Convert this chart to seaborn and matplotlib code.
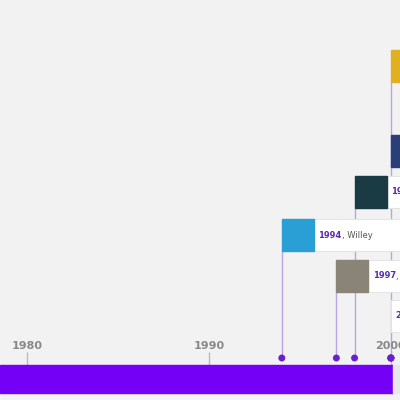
import matplotlib
matplotlib.use("Agg")
import matplotlib.pyplot as plt
import matplotlib.patches as mpatches
import seaborn as sns
import pandas as pd

# timeline events (year, label, thumbnail colour)
years = [1994, 1997, 1998, 2000, 2000, 2000, 2000]
labels = ["1994, Willey", "1997, C", "1998", "2000", "2000", "2000", "2000"]
thumb_colors = ["#2a9fd6", "#8a8478", "#1a3a44", "#e0b020", "#2a3f7a", "#ffffff", "#ffffff"]
card_top = [219, 260, 176, 50, 135, 300, 300]  # vertical slot of each card (px)
tick_years = [1980, 1990, 2000]

purple = "#7400f5"
bg = "#f2f2f2"

sns.set_theme(style="white")
plt.rcParams['font.family'] = ['DejaVu Sans']

fig = plt.figure(figsize=(4, 4), dpi=100, facecolor=bg)
ax = fig.add_axes([0, 0, 1, 1])
ax.set_facecolor(bg)
ax.set_xlim(1978.5, 2000.5)
ax.set_ylim(400, 0)
ax.axis("off")

df = pd.DataFrame({"year": years, "label": labels, "top": card_top, "thumb": thumb_colors})

# stems
for _, r in df.drop_duplicates("year").iterrows():
    ax.vlines(r["year"], min(df[df.year == r["year"]]["top"]) + 32, 358, color="#b9a6e0", lw=1, zorder=1)

# cards
yr_px = 22 / 400
for _, r in df.iterrows():
    if r["top"] == 300 and r["thumb"] == "#ffffff" and r["label"] == "2000" and _ == 6:
        continue
    thumb_w = 32 * yr_px
    if r["thumb"] != "#ffffff":
        ax.add_patch(mpatches.Rectangle((r["year"], r["top"]), thumb_w, 32, color=r["thumb"], zorder=3))
        tx = r["year"] + thumb_w
    else:
        tx = r["year"]
    ax.add_patch(mpatches.Rectangle((tx, r["top"]), 10, 32, facecolor="white", edgecolor="#e4e4e4", lw=0.8, zorder=2))
    yr, _, rest = r["label"].partition(",")
    t = ax.text(tx + 0.25, r["top"] + 16, yr, color="#5a2bb0", fontsize=6, fontweight="bold", va="center", zorder=4)
    if rest:
        ax.annotate("," + rest, xycoords=t, xy=(1, 0.5), va="center", fontsize=6, color="#555555", zorder=4)

# axis ticks
for y in tick_years:
    ax.vlines(y, 352, 365, color="#bbbbbb", lw=1)
    ax.text(y, 346, str(y), ha="center", va="center", fontsize=8, fontweight="bold", color="#888888")

# purple bar
ax.add_patch(mpatches.Rectangle((1978.5, 365), 2000.1 - 1978.5, 28, color=purple, zorder=2))
ax.add_patch(mpatches.Rectangle((2000.1, 365), 1, 28, color="#e8e8e8", zorder=2))

sns.scatterplot(x=years, y=[358] * len(years), color="#6a1fd0", s=25, edgecolor="none", ax=ax, zorder=5)

fig.savefig("out.png", dpi=100, facecolor=bg)
